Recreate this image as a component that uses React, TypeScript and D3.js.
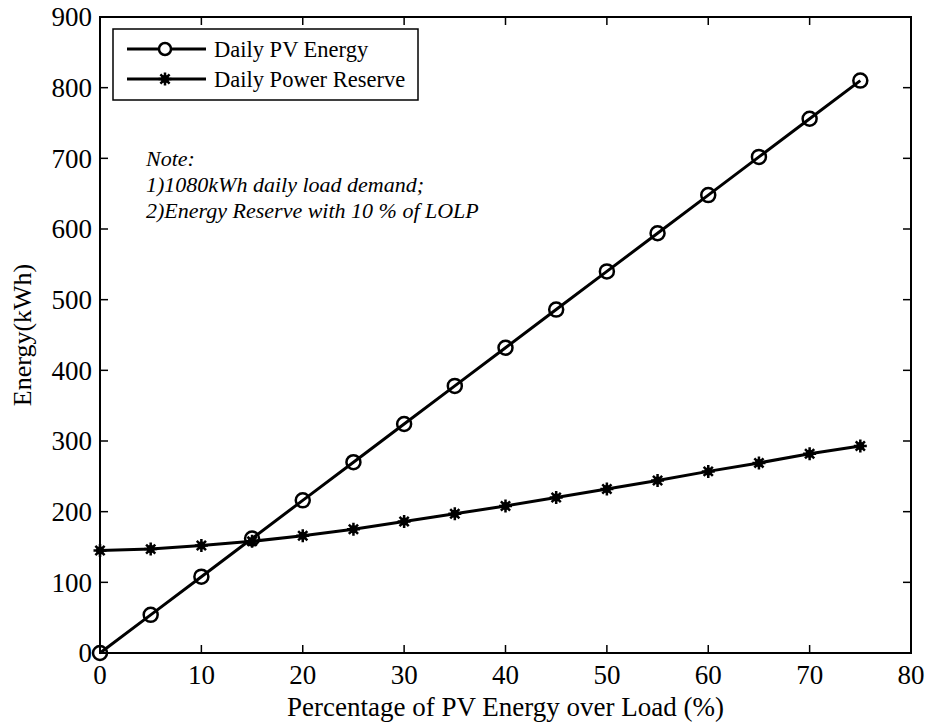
import React from 'react';
import * as d3 from 'd3';

const pvShare = [0, 5, 10, 15, 20, 25, 30, 35, 40, 45, 50, 55, 60, 65, 70, 75];
const pvEnergy = [0, 54, 108, 162, 216, 270, 324, 378, 432, 486, 540, 594, 648, 702, 756, 810];
const powerReserve = [145, 147, 152, 158, 166, 175, 186, 197, 208, 220, 232, 244, 257, 269, 282, 293];
const xTicks = [0, 10, 20, 30, 40, 50, 60, 70, 80];
const yTicks = [0, 100, 200, 300, 400, 500, 600, 700, 800, 900];
const noteLines = ['Note:', '1)1080kWh daily load demand;', '2)Energy Reserve with 10 % of LOLP'];

const W = 927;
const H = 727;
const margin = { top: 17, right: 16, bottom: 74, left: 100 };
const FONT = '"Liberation Serif", "Times New Roman", serif';

// asterisk marker, drawn as a little bundle of strokes
const Star: React.FC<{ x: number; y: number; r?: number }> = ({ x, y, r = 6.5 }) => {
    const d = d3.range(4).map(i => {
        const a = (i * Math.PI) / 4;
        const dx = Math.cos(a) * r;
        const dy = Math.sin(a) * r;
        return `M${x - dx},${y - dy}L${x + dx},${y + dy}`;
    }).join('');
    return (
        <g>
            <path d={d} stroke="#000" strokeWidth={2.5} />
            <circle cx={x} cy={y} r={4} fill="#000" />
        </g>
    );
};

const App: React.FC = () => {
    const x = d3.scaleLinear().domain([0, 80]).range([margin.left, W - margin.right]);
    const y = d3.scaleLinear().domain([0, 900]).range([H - margin.bottom, margin.top]);

    const pts = pvShare.map((s, i) => ({ s, pv: pvEnergy[i], res: powerReserve[i] }));
    const linePV = d3.line<typeof pts[0]>().x(d => x(d.s)).y(d => y(d.pv));
    const lineRes = d3.line<typeof pts[0]>().x(d => x(d.s)).y(d => y(d.res));

    const x0 = x(0), x1 = x(80), y0 = y(0), y1 = y(900);
    const tick = 8;

    // legend
    const lg = { x: 113, y: 29, w: 305, h: 71 };
    const rows = [
        { label: 'Daily PV Energy', kind: 'circle' },
        { label: 'Daily Power Reserve', kind: 'star' }
    ];

    return (
        <svg width={W} height={H} style={{ position: 'absolute', left: 0, top: 0, background: '#fff' }}
            fontFamily={FONT}>
            <rect width={W} height={H} fill="#fff" />

            {/* ticks, inward on all four sides */}
            {xTicks.map(t => (
                <g key={'xt' + t}>
                    <line x1={x(t)} x2={x(t)} y1={y0} y2={y0 - tick} stroke="#000" strokeWidth={1.5} />
                    <line x1={x(t)} x2={x(t)} y1={y1} y2={y1 + tick} stroke="#000" strokeWidth={1.5} />
                    <text x={x(t)} y={y0 + 31} textAnchor="middle" fontSize={27}>{t}</text>
                </g>
            ))}
            {yTicks.map(t => (
                <g key={'yt' + t}>
                    <line x1={x0} x2={x0 + tick} y1={y(t)} y2={y(t)} stroke="#000" strokeWidth={1.5} />
                    <line x1={x1} x2={x1 - tick} y1={y(t)} y2={y(t)} stroke="#000" strokeWidth={1.5} />
                    <text x={x0 - 8} y={y(t)} dy="0.34em" textAnchor="end" fontSize={27}>{t}</text>
                </g>
            ))}

            <rect x={x0} y={y1} width={x1 - x0} height={y0 - y1} fill="none" stroke="#000" strokeWidth={2} />

            <text x={(x0 + x1) / 2} y={H - 11} textAnchor="middle" fontSize={27}>
                Percentage of PV Energy over Load (%)
            </text>
            <text transform={`translate(31,${(y0 + y1) / 2}) rotate(-90)`} textAnchor="middle" fontSize={26}>
                Energy(kWh)
            </text>

            {/* series */}
            <path d={lineRes(pts) || ''} fill="none" stroke="#000" strokeWidth={3} />
            {pts.map(d => <Star key={'s' + d.s} x={x(d.s)} y={y(d.res)} />)}
            <path d={linePV(pts) || ''} fill="none" stroke="#000" strokeWidth={3} />
            {pts.map(d => (
                <circle key={'c' + d.s} cx={x(d.s)} cy={y(d.pv)} r={7} fill="none" stroke="#000" strokeWidth={2.5} />
            ))}

            {/* note */}
            {noteLines.map((t, i) => (
                <text key={t} x={146} y={166 + i * 26} fontSize={22} fontStyle="italic">{t}</text>
            ))}

            {/* legend */}
            <rect x={lg.x} y={lg.y} width={lg.w} height={lg.h} fill="#fff" stroke="#000" strokeWidth={1.5} />
            {rows.map((r, i) => {
                const cy = lg.y + 20 + i * 30;
                return (
                    <g key={r.label}>
                        <line x1={127} x2={206} y1={cy} y2={cy} stroke="#000" strokeWidth={3} />
                        {r.kind === 'circle'
                            ? <circle cx={165} cy={cy} r={6} fill="#fff" stroke="#000" strokeWidth={2.5} />
                            : <Star x={165} y={cy} />}
                        <text x={214} y={cy} dy="0.35em" fontSize={22.5}>{r.label}</text>
                    </g>
                );
            })}
        </svg>
    );
};

export default App;
